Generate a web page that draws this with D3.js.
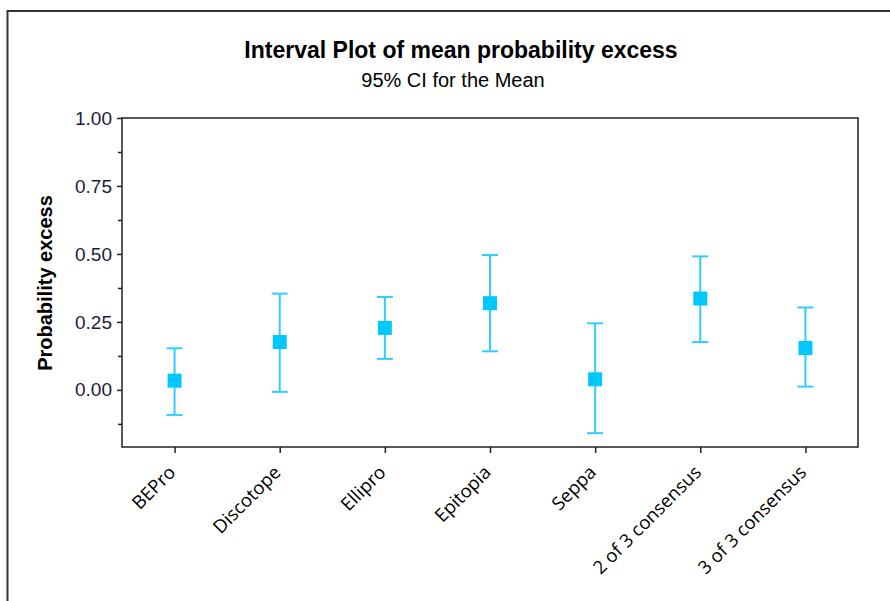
<!doctype html>
<html lang="en">
  <head>
    <meta charset="utf-8">
    <title>Interval Plot of mean probability excess</title>
    <script src="https://d3js.org/d3.v7.min.js"></script>
    <style>
      body { margin: 0; background: #fff; }
    </style>
  </head>
  <body>
    <div id="container"></div>
  </body>
  <script>
    // values
    const categories = ["BEPro", "Discotope", "Ellipro", "Epitopia", "Seppa", "2 of 3 consensus", "3 of 3 consensus"]
    const means = [0.034, 0.176, 0.228, 0.319, 0.039, 0.336, 0.154]
    const lower = [-0.092, -0.007, 0.114, 0.142, -0.159, 0.176, 0.012]
    const upper = [0.153, 0.354, 0.342, 0.496, 0.245, 0.491, 0.303]
    const yTicks = [0, 0.25, 0.5, 0.75, 1]
    const yMinorTicks = [-0.125, 0.125, 0.375, 0.625, 0.875]

    const width = 890
    const height = 601
    const plot = {left: 122, right: 858, top: 118, bottom: 447}

    const svg = d3.select("#container")
      .append("svg")
        .attr("width", width)
        .attr("height", height)

    // outer frame
    svg.append("rect")
      .attr("x", 7.5).attr("y", 11)
      .attr("width", 900).attr("height", 620)
      .attr("fill", "none")
      .attr("stroke", "#333")
      .attr("stroke-width", 2)

    const x = d3.scalePoint()
      .domain(categories)
      .range([plot.left, plot.right])
      .padding(0.5)

    const y = d3.scaleLinear()
      .domain([-0.21, 1.0])
      .range([plot.bottom, plot.top])

    // titles
    svg.append("text")
      .attr("x", 461).attr("y", 58)
      .attr("text-anchor", "middle")
      .style("font-family", "Liberation Sans, Arial, sans-serif")
      .style("font-weight", "bold")
      .style("font-size", "23px")
      .text("Interval Plot of mean probability excess")

    svg.append("text")
      .attr("x", 453).attr("y", 87)
      .attr("text-anchor", "middle")
      .style("font-family", "Liberation Sans, Arial, sans-serif")
      .style("font-size", "20px")
      .text("95% CI for the Mean")

    // plot frame
    svg.append("rect")
      .attr("x", plot.left).attr("y", plot.top)
      .attr("width", plot.right - plot.left)
      .attr("height", plot.bottom - plot.top)
      .attr("fill", "none")
      .attr("stroke", "#222")
      .attr("stroke-width", 1.5)

    // y axis
    const yAxis = svg.append("g")
      .attr("transform", `translate(${plot.left},0)`)
      .call(d3.axisLeft(y).tickValues(yTicks).tickFormat(d3.format(".2f")).tickSize(5).tickPadding(5))
    yAxis.select(".domain").remove()
    yAxis.selectAll("text")
      .style("font-family", "Liberation Sans, Arial, sans-serif")
      .style("font-size", "19px")
      .attr("fill", "#1c1c3a")
    yAxis.selectAll("line").attr("stroke", "#222").attr("stroke-width", 1.5)

    svg.append("g")
      .attr("transform", `translate(${plot.left},0)`)
      .call(d3.axisLeft(y).tickValues(yMinorTicks).tickFormat("").tickSize(4))
      .call(g => g.select(".domain").remove())
      .selectAll("line").attr("stroke", "#222").attr("stroke-width", 1.5)

    svg.append("text")
      .attr("transform", "translate(52,283) rotate(-90)")
      .attr("text-anchor", "middle")
      .style("font-family", "Liberation Sans, Arial, sans-serif")
      .style("font-weight", "bold")
      .style("font-size", "20px")
      .text("Probability excess")

    // x axis
    const xAxis = svg.append("g")
      .attr("transform", `translate(0,${plot.bottom})`)
      .call(d3.axisBottom(x).tickSize(6).tickPadding(4))
    xAxis.select(".domain").remove()
    xAxis.selectAll("line").attr("stroke", "#222").attr("stroke-width", 1.5)
    xAxis.selectAll("text")
      .attr("text-anchor", "end")
      .attr("transform", "translate(-3,22) rotate(-45)")
      .attr("dy", "0.35em")
      .attr("x", 0).attr("y", 0)
      .style("font-family", "Open Sans, Noto Sans, sans-serif")
      .style("font-size", "18.5px")
      .attr("fill", "#000")

    // intervals
    const cap = 8
    const bars = svg.append("g")
      .selectAll("g")
      .data(categories)
      .join("g")
      .attr("stroke", "#33ccff")
      .attr("stroke-width", 2)

    bars.append("line")
      .attr("x1", d => x(d)).attr("x2", d => x(d))
      .attr("y1", (d, i) => y(lower[i])).attr("y2", (d, i) => y(upper[i]))
    bars.append("line")
      .attr("x1", d => x(d) - cap).attr("x2", d => x(d) + cap)
      .attr("y1", (d, i) => y(upper[i])).attr("y2", (d, i) => y(upper[i]))
    bars.append("line")
      .attr("x1", d => x(d) - cap).attr("x2", d => x(d) + cap)
      .attr("y1", (d, i) => y(lower[i])).attr("y2", (d, i) => y(lower[i]))

    // mean markers
    const m = 14
    svg.append("g")
      .selectAll("rect")
      .data(categories)
      .join("rect")
      .attr("x", d => x(d) - m / 2)
      .attr("y", (d, i) => y(means[i]) - m / 2)
      .attr("width", m).attr("height", m)
      .attr("fill", "#00c8ff")
  </script>
</html>
